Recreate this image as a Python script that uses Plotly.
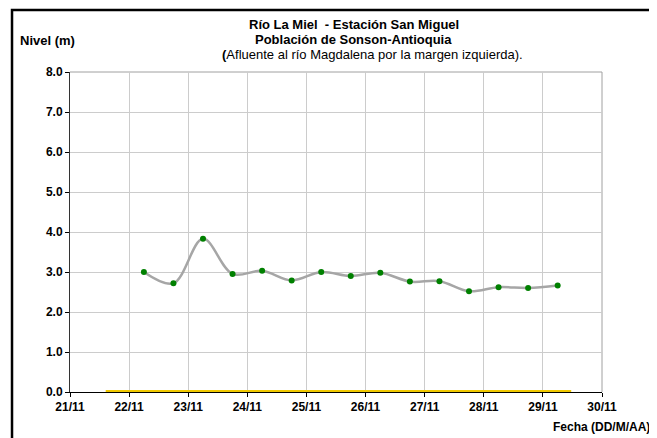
import plotly.graph_objects as go

# ---- data ----
fechas = [
    "2011-11-22 06:00", "2011-11-22 18:00", "2011-11-23 06:00", "2011-11-23 18:00",
    "2011-11-24 06:00", "2011-11-24 18:00", "2011-11-25 06:00", "2011-11-25 18:00",
    "2011-11-26 06:00", "2011-11-26 18:00", "2011-11-27 06:00", "2011-11-27 18:00",
    "2011-11-28 06:00", "2011-11-28 18:00", "2011-11-29 06:00",
]
nivel = [3.00, 2.72, 3.83, 2.95, 3.03, 2.79, 3.00, 2.90, 2.98, 2.76, 2.77, 2.52, 2.62, 2.60, 2.66]

alerta_fechas = ["2011-11-21 14:30", "2011-11-29 11:30"]
alerta_nivel = [0.0, 0.0]

x_rango = ["2011-11-21 00:00", "2011-11-30 00:00"]
y_ticks = [0, 1, 2, 3, 4, 5, 6, 7, 8]

titulo1 = "Río La Miel  - Estación San Miguel"
titulo2 = "Población de Sonson-Antioquia"
titulo3 = "<b>(</b>Afluente al río Magdalena por la margen izquierda)."
eje_y = "Nivel (m)"
eje_x = "Fecha (DD/M/AA)"

FONT = "Liberation Sans, Arial, sans-serif"

fig = go.Figure()
fig.add_trace(go.Scatter(
    x=alerta_fechas, y=alerta_nivel, mode="lines",
    line=dict(color="#f0c800", width=4), hoverinfo="skip",
))
fig.add_trace(go.Scatter(
    x=fechas, y=nivel, mode="lines+markers",
    line=dict(color="#a6a6a6", width=2.5, shape="spline", smoothing=1.0),
    marker=dict(color="#008000", size=6),
))

fig.update_layout(
    width=649, height=430,
    margin=dict(l=62, r=54.5, t=64, b=45.7),
    paper_bgcolor="white", plot_bgcolor="white",
    showlegend=False,
    font=dict(family=FONT, color="black"),
    xaxis=dict(
        type="date", range=x_rango, dtick=86400000, tick0="2011-11-21",
        tickformat="%d/%m", showgrid=True, gridcolor="#cccccc", gridwidth=1,
        showline=True, linecolor="black", linewidth=1, layer="below traces",
        ticks="outside", ticklen=4, tickcolor="black",
        tickfont=dict(family=FONT, size=12, color="black", weight="bold"),
        zeroline=False, fixedrange=True,
    ),
    yaxis=dict(
        range=[0, 8], tickvals=y_ticks, tickformat=".1f",
        showgrid=True, gridcolor="#cccccc", gridwidth=1,
        showline=True, linecolor="#333333", linewidth=1, layer="below traces",
        ticks="outside", ticklen=4, tickcolor="black",
        tickfont=dict(family=FONT, size=12, color="black", weight="bold"),
        zeroline=False, fixedrange=True,
    ),
    shapes=[
        dict(type="line", xref="paper", yref="paper", x0=0, x1=1, y0=1, y1=1,
             line=dict(color="#a0a0a0", width=1), layer="below"),
        dict(type="line", xref="paper", yref="paper", x0=1, x1=1, y0=0, y1=1,
             line=dict(color="#a0a0a0", width=1), layer="below"),
        dict(type="rect", xref="paper", yref="paper", x0=-0.109, x1=1.25, y0=-0.4, y1=1.194,
             line=dict(color="black", width=2.5), fillcolor="rgba(0,0,0,0)", layer="above"),
    ],
    annotations=[
        dict(text="<b>" + titulo1 + "</b>", xref="paper", yref="paper", x=0.534, y=1.147,
             xanchor="center", yanchor="middle", showarrow=False, font=dict(size=13)),
        dict(text="<b>" + titulo2 + "</b>", xref="paper", yref="paper", x=0.533, y=1.10,
             xanchor="center", yanchor="middle", showarrow=False, font=dict(size=13)),
        dict(text=titulo3, xref="paper", yref="paper", x=0.568, y=1.056,
             xanchor="center", yanchor="middle", showarrow=False, font=dict(size=13)),
        dict(text="<b>" + eje_y + "</b>", xref="paper", yref="paper", x=-0.098, y=1.097,
             xanchor="left", yanchor="middle", showarrow=False, font=dict(size=13)),
        dict(text="<b>" + eje_x + "</b>", xref="paper", yref="paper", x=0.905, y=-0.108,
             xanchor="left", yanchor="middle", showarrow=False, font=dict(size=12)),
    ],
)

fig.write_html("out.html")
